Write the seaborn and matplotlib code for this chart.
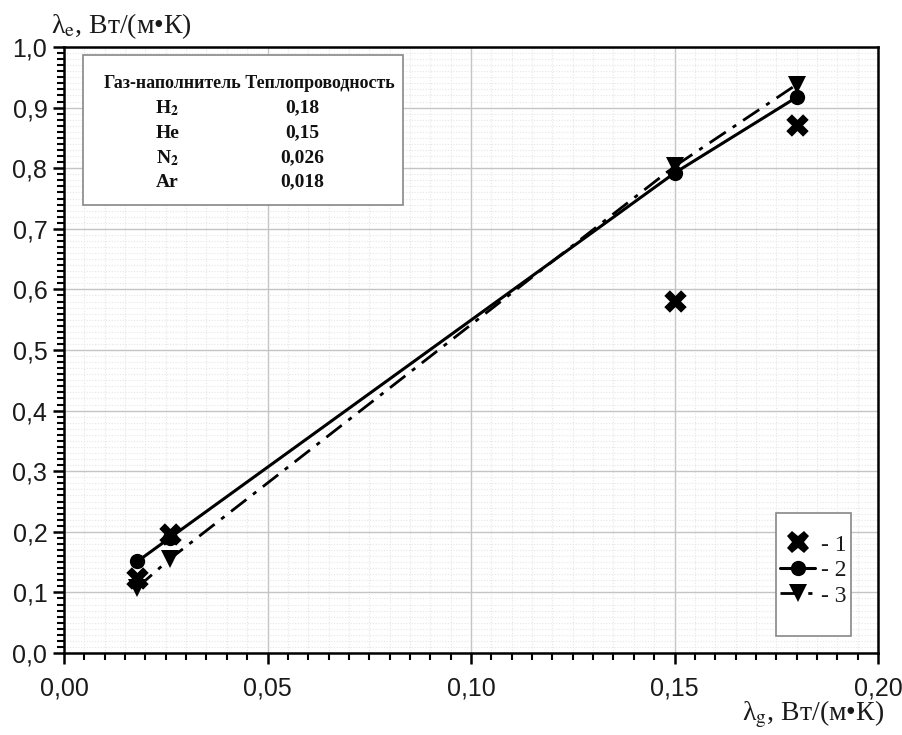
import matplotlib
matplotlib.use("Agg")
import matplotlib.pyplot as plt
import seaborn as sns
import pandas as pd
from matplotlib.lines import Line2D
from matplotlib.patches import Rectangle
from matplotlib.ticker import MultipleLocator

# ---- data ----
lambda_g = [0.018, 0.026, 0.15, 0.18]
series1 = [0.124, 0.196, 0.581, 0.872]
series2 = [0.151, 0.19, 0.792, 0.917]
series3 = [0.108, 0.155, 0.803, 0.938]
series_names = ["- 1", "- 2", "- 3"]

xtick_vals = [0.00, 0.05, 0.10, 0.15, 0.20]
xtick_labels = ["0,00", "0,05", "0,10", "0,15", "0,20"]
ytick_vals = [0.0, 0.1, 0.2, 0.3, 0.4, 0.5, 0.6, 0.7, 0.8, 0.9, 1.0]
ytick_labels = ["0,0", "0,1", "0,2", "0,3", "0,4", "0,5", "0,6", "0,7", "0,8", "0,9", "1,0"]

table_header = "Газ-наполнитель Теплопроводность"
table_gases = ["H$_\\mathbf{2}$", "He", "N$_\\mathbf{2}$", "Ar"]
table_values = ["0,18", "0,15", "0,026", "0,018"]

xlabel = "λ$_\\mathrm{g}$, Вт/(м•К)"
ylabel = "λ$_\\mathrm{e}$, Вт/(м•К)"

# ---- style ----
sns.set_theme(style="white")
plt.rcParams["font.family"] = ["Liberation Sans", "DejaVu Sans"]
plt.rcParams["mathtext.fontset"] = "stix"

fig = plt.figure(figsize=(9.02, 7.35), dpi=100)
ax = fig.add_axes([64 / 902, 1 - 653 / 735, 814 / 902, 606 / 735])

df = pd.DataFrame({"x": lambda_g, "s1": series1, "s2": series2, "s3": series3})

dashdot = (0, (7, 3, 1.5, 3))

sns.lineplot(data=df, x="x", y="s2", ax=ax, color="black", linewidth=2.2,
             marker="o", markersize=11, markeredgewidth=0, zorder=4)
sns.lineplot(data=df, x="x", y="s3", ax=ax, color="black", linewidth=2.0,
             linestyle=dashdot, marker="v", markersize=13, markeredgewidth=0, zorder=4)
sns.scatterplot(data=df, x="x", y="s1", ax=ax, color="black", marker="X",
                s=260, linewidth=0, zorder=5)

ax.set_xlim(0, 0.2)
ax.set_ylim(0, 1.0)

ax.set_xticks(xtick_vals)
ax.set_xticklabels(xtick_labels)
ax.set_yticks(ytick_vals)
ax.set_yticklabels(ytick_labels)
ax.xaxis.set_minor_locator(MultipleLocator(0.005))
ax.yaxis.set_minor_locator(MultipleLocator(0.01))

ax.tick_params(axis="both", which="major", direction="out", length=8, width=1.8,
               color="black", labelsize=18, labelcolor="#1a1a1a")
ax.tick_params(axis="x", which="major", pad=9)
ax.tick_params(axis="y", which="major", pad=4)
ax.tick_params(axis="both", which="minor", direction="out", length=5, width=1.5,
               color="black")
ax.tick_params(bottom=True, left=True, top=False, right=False, which="both")

for sp in ax.spines.values():
    sp.set_visible(True)
    sp.set_color("black")
    sp.set_linewidth(1.8)

ax.grid(True, which="major", color="#c4c4c4", linewidth=1.0, linestyle="-")
ax.grid(True, which="minor", color="#e6e6e6", linewidth=0.8, linestyle=(0, (1, 1.5)))
ax.set_axisbelow(True)

serif = ["Liberation Serif", "DejaVu Serif"]
ax.set_xlabel("")
ax.set_ylabel("")
ax.text(1.008, -0.127, xlabel, transform=ax.transAxes, ha="right", va="bottom",
        fontsize=20, family=serif, color="#1a1a1a")
ax.text(-0.016, 1.010, ylabel, transform=ax.transAxes, ha="left", va="bottom",
        fontsize=20, family=serif, color="#1a1a1a")

# ---- table box ----
ax.add_patch(Rectangle((0.0233, 0.739), 0.3932, 0.248, transform=ax.transAxes,
                       facecolor="white", edgecolor="#888888", linewidth=1.2, zorder=6))
ax.text(0.228, 0.940, table_header, transform=ax.transAxes, ha="center", va="center",
        fontsize=12.9, fontweight="bold", family=serif, color="#111111", zorder=7)
row_y = [0.899, 0.858, 0.817, 0.777]
for gas, val, yy in zip(table_gases, table_values, row_y):
    ax.text(0.127, yy, gas, transform=ax.transAxes, ha="center", va="center",
            fontsize=14, fontweight="bold", family=serif, color="#111111", zorder=7)
    ax.text(0.293, yy, val, transform=ax.transAxes, ha="center", va="center",
            fontsize=14, fontweight="bold", family=serif, color="#111111", zorder=7)

# ---- legend ----
ax.add_patch(Rectangle((0.875, 0.028), 0.092, 0.203, transform=ax.transAxes,
                       facecolor="white", edgecolor="#888888", linewidth=1.2, zorder=6))
handles = [
    Line2D([], [], color="black", marker="X", linestyle="none", markersize=16, markeredgewidth=0),
    Line2D([], [], color="black", marker="o", linestyle="-", linewidth=2.2, markersize=11, markeredgewidth=0),
    Line2D([], [], color="black", marker="v", linestyle=dashdot, linewidth=2.0, markersize=13, markeredgewidth=0),
]
leg = ax.legend(handles, series_names, loc="upper left", bbox_to_anchor=(0.868, 0.212),
                frameon=False, prop={"family": serif, "size": 17}, handlelength=1.5,
                handletextpad=0.25, labelspacing=0.17, borderaxespad=0)
leg.set_zorder(8)
for t in leg.get_texts():
    t.set_color("#1a1a1a")

fig.savefig("out.png", dpi=100)
